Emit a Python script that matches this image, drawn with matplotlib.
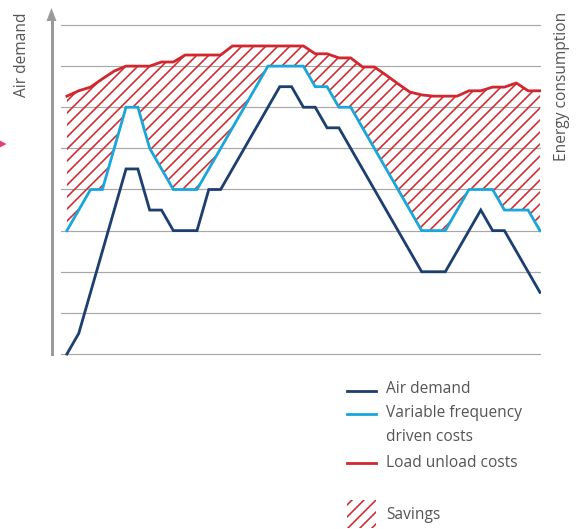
import matplotlib
matplotlib.use('Agg')
import matplotlib.pyplot as plt
from matplotlib.lines import Line2D
from matplotlib.patches import Polygon, Rectangle

# ---------------- data ----------------
steps = list(range(41))
air_demand = [0, 0.5, 1.5, 2.5, 3.5, 4.5, 4.5, 3.5, 3.5, 3, 3, 3, 4, 4, 4.5, 5, 5.5,
              6, 6.5, 6.5, 6, 6, 5.5, 5.5, 5, 4.5, 4, 3.5, 3, 2.5, 2, 2, 2, 2.5, 3,
              3.5, 3, 3, 2.5, 2, 1.5]
vfd_costs = [3, 3.5, 4, 4, 5, 6, 6, 5, 4.5, 4, 4, 4, 4.5, 5, 5.5, 6, 6.5, 7, 7, 7, 7,
             6.5, 6.5, 6, 6, 5.5, 5, 4.5, 4, 3.5, 3, 3, 3, 3.5, 4, 4, 4, 3.5, 3.5,
             3.5, 3]
load_unload = [6.27, 6.40, 6.49, 6.69, 6.88, 7.0, 7.0, 7.0, 7.1, 7.1, 7.27, 7.27,
               7.27, 7.27, 7.49, 7.49, 7.49, 7.49, 7.49, 7.49, 7.49, 7.30, 7.30,
               7.20, 7.20, 6.98, 6.98, 6.78, 6.57, 6.37, 6.30, 6.27, 6.27, 6.27,
               6.40, 6.40, 6.49, 6.49, 6.59, 6.40, 6.40]
grid_levels = list(range(9))

y_label = "Air demand"
y2_label = "Energy consumption"
legend_labels = ["Air demand", "Variable frequency", "driven costs", "Load unload costs", "Savings"]

# ---------------- style ----------------
NAVY = "#1d3f70"
BLUE = "#1aa6da"
RED = "#d0282e"
GRID = "#a8a8a8"
AXIS = "#9a9a9a"
TEXT = "#555555"
FONT = "Open Sans"
FS = 15.5
WEIGHT = 'normal'

W, H = 577, 529
DPI = 72
plt.rcParams['hatch.linewidth'] = 1.6
fig = plt.figure(figsize=(W / DPI, H / DPI), dpi=DPI)

def fx(px):
    return px / W

def fy(py):
    return 1 - py / H

# axes placement in pixels
x_lo, x_hi = -0.5, 40.05
y_lo, y_hi = -0.1, 8.1
px_left = 61.0
px_step = 11.825
px_right = px_left + (x_hi - x_lo) * px_step
py_zero = 354.0
py_unit = 41.125
py_bottom = py_zero - (y_lo) * py_unit
py_top = py_zero - (y_hi) * py_unit
ax = fig.add_axes([fx(px_left), fy(py_bottom), fx(px_right) - fx(px_left),
                   (py_bottom - py_top) / H])
ax.set_xlim(x_lo, x_hi)
ax.set_ylim(y_lo, y_hi)
for s in ax.spines.values():
    s.set_visible(False)
ax.set_xticks([])
ax.set_yticks([])
for g in grid_levels:
    ax.axhline(g, color=GRID, lw=1.2, zorder=1)

ax.fill_between(steps, vfd_costs, load_unload, facecolor='none', edgecolor=RED,
                hatch='//', linewidth=0, zorder=2)
ax.plot(steps, air_demand, color=NAVY, lw=2.8, zorder=4, solid_joinstyle='miter')
ax.plot(steps, vfd_costs, color=BLUE, lw=2.8, zorder=4, solid_joinstyle='miter')
ax.plot(steps, load_unload, color=RED, lw=2.8, zorder=5)

# y axis arrow
fig.add_artist(Line2D([fx(51.5), fx(51.5)], [fy(354), fy(18)], color=AXIS, lw=3))
fig.add_artist(Polygon([[fx(46.5), fy(21)], [fx(51.5), fy(8)], [fx(56.5), fy(21)]],
                       closed=True, facecolor=AXIS, edgecolor='none',
                       transform=fig.transFigure))

# small pink marker at left edge
fig.add_artist(Polygon([[fx(-1), fy(140)], [fx(6.5), fy(144)], [fx(-1), fy(148)]],
                       closed=True, facecolor="#ee3d73", edgecolor='none',
                       transform=fig.transFigure))

txt = dict(fontsize=FS, color=TEXT, family=FONT, weight=WEIGHT)
# axis labels
fig.text(fx(22), fy(55), y_label, rotation=90, ha='center', va='center', **txt)
fig.text(fx(562), fy(86), y2_label, rotation=90, ha='center', va='center', **txt)

# legend (manual)
lx0, lx1, tx = 347, 376, 386
for color, py in [(NAVY, 391), (BLUE, 414), (RED, 463)]:
    fig.add_artist(Line2D([fx(lx0), fx(lx1)], [fy(py), fy(py)], color=color, lw=2.8))
for label, py in zip(legend_labels, [389, 413, 437, 463, 515]):
    fig.text(fx(tx), fy(py), label, ha='left', va='center', **txt)
fig.add_artist(Rectangle((fx(lx0), fy(528)), fx(lx1) - fx(lx0), (528 - 500) / H,
                         facecolor='none', edgecolor=RED, hatch='//', linewidth=0,
                         transform=fig.transFigure))

fig.savefig("out.png", dpi=DPI)
